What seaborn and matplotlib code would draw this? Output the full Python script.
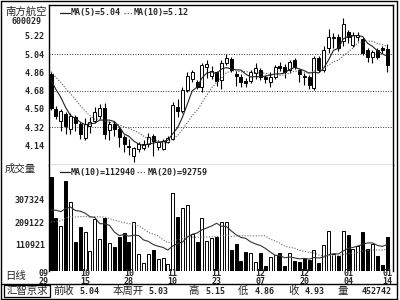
import matplotlib
matplotlib.use("Agg")
import numpy as np
import pandas as pd
import matplotlib.pyplot as plt
import seaborn as sns
from matplotlib.lines import Line2D
from matplotlib.patches import Rectangle
from matplotlib.transforms import blended_transform_factory

# ---------------- data ----------------
stock_name = "南方航空"
stock_code = "600029"

opens = [4.84, 4.50, 4.38, 4.45, 4.30, 4.42, 4.35, 4.21, 4.33, 4.38,
         4.43, 4.51, 4.29, 4.35, 4.30, 4.22, 4.14, 4.04, 4.11, 4.12,
         4.15, 4.23, 4.13, 4.11, 4.17, 4.20, 4.52, 4.48, 4.69, 4.79,
         4.76, 4.72, 4.91, 4.82, 4.86, 4.78, 4.95, 4.99, 4.84, 4.81,
         4.77, 4.77, 4.85, 4.88, 4.81, 4.76, 4.81, 4.92, 4.91, 4.88,
         4.98, 4.88, 4.82, 4.81, 4.71, 5.00, 4.88, 5.10, 5.20, 5.21,
         5.17, 5.26, 5.13, 5.21, 5.19, 5.08, 5.01, 5.08, 5.10, 5.09]
highs = [4.86, 4.53, 4.50, 4.47, 4.46, 4.44, 4.37, 4.41, 4.42, 4.52,
         4.55, 4.56, 4.38, 4.38, 4.32, 4.24, 4.20, 4.13, 4.17, 4.19,
         4.26, 4.25, 4.19, 4.20, 4.23, 4.57, 4.60, 4.72, 4.86, 4.88,
         4.78, 4.95, 4.98, 4.92, 4.87, 4.98, 5.04, 5.01, 4.87, 4.84,
         4.80, 4.88, 4.95, 4.90, 4.83, 4.86, 4.93, 4.96, 4.94, 4.98,
         5.00, 4.89, 4.85, 4.83, 5.02, 5.02, 5.12, 5.29, 5.25, 5.24,
         5.39, 5.28, 5.26, 5.26, 5.21, 5.10, 5.08, 5.10, 5.12, 5.14]
lows = [4.49, 4.40, 4.28, 4.25, 4.25, 4.28, 4.20, 4.19, 4.26, 4.36,
        4.40, 4.20, 4.19, 4.23, 4.13, 4.08, 4.05, 3.98, 4.08, 4.10,
        4.13, 4.04, 4.10, 4.10, 4.16, 4.19, 4.42, 4.46, 4.67, 4.76,
        4.70, 4.67, 4.80, 4.79, 4.73, 4.70, 4.93, 4.86, 4.73, 4.72,
        4.72, 4.75, 4.79, 4.78, 4.75, 4.72, 4.79, 4.87, 4.80, 4.85,
        4.89, 4.76, 4.74, 4.70, 4.69, 4.86, 4.86, 5.05, 5.10, 5.07,
        5.12, 5.15, 5.11, 5.17, 5.03, 4.96, 4.95, 4.99, 5.05, 4.86]
closes = [4.51, 4.43, 4.48, 4.33, 4.43, 4.36, 4.25, 4.35, 4.37, 4.47,
          4.51, 4.25, 4.35, 4.30, 4.22, 4.15, 4.13, 4.12, 4.15, 4.15,
          4.22, 4.18, 4.17, 4.18, 4.21, 4.54, 4.48, 4.69, 4.82, 4.86,
          4.72, 4.93, 4.94, 4.87, 4.77, 4.95, 5.00, 4.88, 4.82, 4.76,
          4.75, 4.86, 4.90, 4.81, 4.79, 4.81, 4.91, 4.90, 4.86, 4.96,
          4.91, 4.84, 4.81, 4.74, 5.00, 4.88, 5.08, 5.21, 5.21, 5.10,
          5.34, 5.21, 5.23, 5.23, 5.05, 5.01, 5.06, 5.01, 5.08, 4.93]
volumes = [406, 226, 194, 388, 298, 125, 189, 166, 86, 223,
           135, 226, 121, 103, 144, 161, 125, 209, 70, 34,
           70, 89, 49, 53, 29, 337, 231, 272, 284, 157,
           125, 229, 129, 140, 144, 212, 212, 89, 115, 42,
           82, 77, 39, 75, 20, 57, 67, 75, 20, 77,
           42, 39, 55, 45, 90, 34, 111, 170, 70, 63,
           170, 155, 94, 106, 165, 92, 115, 63, 24, 145]  # thousand shares
# closes / volumes just before the visible window (seed the moving averages)
prior_closes = [4.98, 4.97, 4.95, 4.93, 4.92, 4.88, 4.86, 4.84, 4.82]
prior_volumes = [150, 170, 140, 160, 180, 150, 145, 165, 160, 160,
                 230, 260, 250, 240, 270, 220, 250, 240, 254]

date_labels = ["09\n29", "10\n15", "10\n28", "11\n10", "11\n23",
               "12\n07", "12\n20", "01\n04", "01\n14"]
date_index = [0, 7, 16, 25, 34, 43, 52, 61, 69]

price_ticks = [5.22, 5.04, 4.86, 4.68, 4.50, 4.32, 4.14]
price_grid = [5.04, 4.68, 4.32]
vol_ticks = [307324, 209122, 110921]

price_legend = ["MA(5)=5.04", "MA(10)=5.12"]
vol_legend = ["MA(10)=112940", "MA(20)=92759"]

bar_labels = ["前收", "本周开", "高", "低", "收", "量"]
bar_values = ["5.04", "5.03", "5.15", "4.86", "4.93", "452742"]

# ---------------- frame ----------------
n = len(closes)
df = pd.DataFrame({"i": np.arange(n), "open": opens, "high": highs,
                   "low": lows, "close": closes,
                   "vol": np.array(volumes) * 1000.0})
all_c = pd.Series(prior_closes + closes)
df["ma5"] = all_c.rolling(5).mean().values[len(prior_closes):]
df["ma10"] = all_c.rolling(10).mean().values[len(prior_closes):]
all_v = pd.Series(prior_volumes + volumes) * 1000.0
df["vma10"] = all_v.rolling(10).mean().values[len(prior_volumes):]
df["vma20"] = all_v.rolling(20).mean().values[len(prior_volumes):]
df["up"] = df["close"] >= df["open"]

sns.set_theme(style="white")
plt.rcParams["font.family"] = ["DejaVu Sans Mono", "Noto Sans CJK SC"]
CJK = ["Noto Sans CJK SC", "DejaVu Sans"]
MONO = ["DejaVu Sans Mono"]

W, H = 400, 300
fig = plt.figure(figsize=(4, 3), dpi=100)
fig.patch.set_facecolor("white")

def fx(x):
    return x / W

def fy(y):
    return 1 - y / H

XL, XR = 49, 393
step = 4.87
x0 = 51
xlim = ((XL - x0) / step, (XR - x0) / step)

# price axes y: 5 -> 165 px
ppp = 0.18 / 18.3
p_top = 5.04 + (54 - 5) * ppp
p_bot = 5.04 - (165 - 54) * ppp
ax_p = fig.add_axes([fx(XL), fy(165), fx(XR - XL), (165 - 5) / H])
ax_v = fig.add_axes([fx(XL), fy(270.6), fx(XR - XL), (270.6 - 165) / H])

for ax in (ax_p, ax_v):
    ax.set_facecolor("white")
    ax.set_xlim(*xlim)
    ax.set_xticks([])
    for s in ax.spines.values():
        s.set_color("black")
        s.set_linewidth(1.0)

ax_p.set_ylim(p_bot, p_top)
ax_p.spines["bottom"].set_color("#666666")
ax_v.spines["top"].set_visible(False)
ax_v.spines["bottom"].set_visible(False)

# grid lines
for g in price_grid:
    ax_p.axhline(g, color="#333333", lw=0.7, ls=(0, (1, 1.6)), zorder=1)

# candles
colors = np.where(df["up"], "white", "black")
ax_p.vlines(df["i"], df["low"], df["high"], color="black", lw=0.8, zorder=2)
body_bot = np.minimum(df["open"], df["close"])
body_h = np.maximum((df["close"] - df["open"]).abs(), 0.006)
ax_p.bar(df["i"], body_h, bottom=body_bot, width=0.62, color=colors,
         edgecolor="black", linewidth=0.7, zorder=3)

sns.lineplot(x=df["i"], y=df["ma5"], ax=ax_p, color="#222222",
             linewidth=0.8, zorder=4, legend=False)
sns.lineplot(x=df["i"], y=df["ma10"], ax=ax_p, color="#555555",
             linewidth=0.8, linestyle=(0, (1, 1.5)), zorder=4, legend=False)
ax_p.set_xlabel("")
ax_p.set_ylabel("")
ax_p.set_yticks(price_ticks)
ax_p.set_yticklabels([f"{t:.2f}" for t in price_ticks])
ax_p.tick_params(axis="y", length=0, pad=3, labelsize=6)
for t in ax_p.get_yticklabels():
    t.set_fontweight("bold")
    t.set_family(MONO)

# volume
ax_v.set_ylim(0, 457000)
ax_v.bar(df["i"], df["vol"], width=0.62, color=colors, edgecolor="black",
         linewidth=0.7, zorder=3)
sns.lineplot(x=df["i"], y=df["vma10"], ax=ax_v, color="#333333",
             linewidth=0.8, zorder=4, legend=False)
sns.lineplot(x=df["i"], y=df["vma20"], ax=ax_v, color="#666666",
             linewidth=0.8, linestyle=(0, (1, 1.5)), zorder=4, legend=False)
ax_v.set_xlabel("")
ax_v.set_ylabel("")
ax_v.set_xticks([])
ax_v.set_yticks(vol_ticks)
ax_v.set_yticklabels([str(v) for v in vol_ticks])
ax_v.tick_params(axis="y", length=0, pad=3, labelsize=6)
for t in ax_v.get_yticklabels():
    t.set_fontweight("bold")
    t.set_family(MONO)

# date labels
tr = blended_transform_factory(ax_v.transData, fig.transFigure)
for k, (lab, idx) in enumerate(zip(date_labels, date_index)):
    if k == 0:
        ax_v.text(xlim[0] - 0.15, fy(277.5), lab, transform=tr, ha="right",
                  va="center", fontsize=6, fontweight="bold", family=MONO,
                  linespacing=0.95)
    else:
        ax_v.text(idx, fy(277.5), lab, transform=tr, ha="center",
                  va="center", fontsize=6, fontweight="bold", family=MONO,
                  linespacing=0.95)

# legends
def legend_row(y, items, xs):
    (s1, t1, d1, t2) = xs
    fig.add_artist(Line2D([fx(s1), fx(s1 + 10)], [fy(y), fy(y)],
                          color="#222222", lw=0.9))
    fig.text(fx(t1), fy(y), items[0], ha="left", va="center", fontsize=6,
             fontweight="bold", family=MONO)
    fig.add_artist(Line2D([fx(d1), fx(d1 + 9)], [fy(y), fy(y)],
                          color="#555555", lw=0.9, ls=(0, (1, 1.5))))
    fig.text(fx(t2), fy(y), items[1], ha="left", va="center", fontsize=6,
             fontweight="bold", family=MONO)

legend_row(13, price_legend, (60, 71, 124, 134))
legend_row(172, vol_legend, (60, 71, 137, 148))

# left column texts
fig.text(fx(26), fy(12), stock_name, ha="center", va="center", fontsize=7.5,
         family=CJK)
fig.text(fx(26), fy(22), stock_code, ha="center", va="center", fontsize=6,
         fontweight="bold", family=MONO)
fig.text(fx(5), fy(169), "成交量", ha="left", va="center", fontsize=7.5,
         family=CJK)
fig.text(fx(5), fy(276), "日线", ha="left", va="center", fontsize=7.5,
         family=CJK)

# bottom info bar
fig.add_artist(Rectangle((fx(4), fy(297)), fx(46), 12 / H, fill=False,
                         edgecolor="black", lw=0.9))
fig.text(fx(27), fy(291), "汇智京求", ha="center", va="center",
         fontsize=7.5, family=CJK)
lab_left = [53, 113, 188, 238, 288, 337]
val_right = [99, 168, 225, 275, 325, 392]
for lab, val, xl, xr in zip(bar_labels, bar_values, lab_left, val_right):
    fig.text(fx(xl), fy(291), lab, ha="left", va="center", fontsize=7.5,
             family=CJK)
    fig.text(fx(xr), fy(291), val, ha="right", va="center", fontsize=6,
             fontweight="bold", family=MONO)

# frame lines
def seg(xa, ya, xb, yb, lw=1.0, c="black"):
    fig.add_artist(Line2D([fx(xa), fx(xb)], [fy(ya), fy(yb)], color=c, lw=lw))

seg(1, 1, 397, 1)
seg(1, 1, 1, 298.5)
seg(397, 1, 397, 298.5)
seg(1, 298.5, 397, 298.5)
seg(1, 283.5, 397, 283.5)

fig.savefig("out.png", dpi=100, facecolor="white")
